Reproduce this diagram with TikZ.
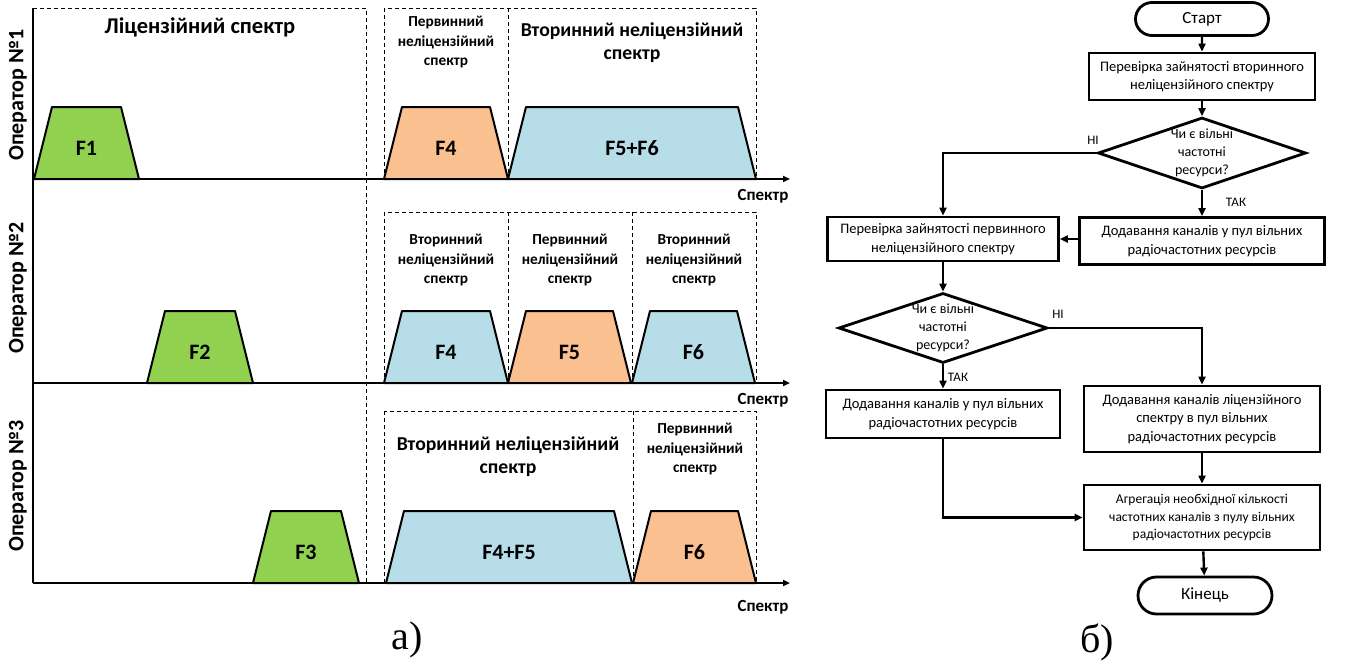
\documentclass[tikz,border=0pt]{standalone}
\usepackage{fontspec}
\setmainfont{Carlito}
\newfontfamily\legende{Liberation Serif}
\usetikzlibrary{arrows.meta,shapes.geometric,shapes.misc,positioning}

\tikzset{Axe/.style={draw,black,line width=2.6pt}}
\tikzset{Pointe/.style={-{Triangle[length=7pt,width=6pt]}}}
\tikzset{Zone/.style={draw,black,line width=0.8pt,dash pattern=on 4pt off 3pt}}
\tikzset{Bord/.style={draw,black,line width=2pt,line join=round}}
\tikzset{Canal/.style={font=\fontsize{22}{26}\selectfont\bfseries}}
\tikzset{Titre/.style={align=center,font=\fontsize{19.7}{23}\selectfont\bfseries}}
\tikzset{Soustitre/.style={align=center,font=\fontsize{15.3}{19.5}\selectfont\bfseries}}
\tikzset{Axelabel/.style={font=\fontsize{17}{20}\selectfont\bfseries}}
\tikzset{Operateur/.style={rotate=90,font=\fontsize{22}{26}\selectfont\bfseries}}
\tikzset{Bloc/.style={draw,black,line width=2.8pt,rectangle,inner sep=0pt,align=center,font=\fontsize{14.5}{18.5}\selectfont}}
\tikzset{Terminal/.style={draw,black,line width=2.8pt,rounded rectangle,inner sep=0pt,minimum width=133pt,minimum height=33pt,font=\fontsize{17}{20}\selectfont}}
\tikzset{Test/.style={draw,black,line width=2.8pt,diamond,inner sep=0pt,minimum width=208pt,minimum height=71pt}}
\tikzset{Testtexte/.style={align=center,inner sep=0pt,font=\fontsize{14}{18}\selectfont}}
\tikzset{Reponse/.style={font=\fontsize{13}{15}\selectfont}}
\tikzset{Fleche/.style={draw,black,line width=2.4pt,-{Triangle[length=8pt,width=7pt]}}}
\tikzset{Legende/.style={font=\legende\fontsize{40}{46}\selectfont}}

\newcommand{\Bande}[6]{%
  \draw[Bord,fill=#5] (#2,#4) -- (#2+18,#4-72) -- (#3-18,#4-72) -- (#3,#4) -- cycle;
  \node[Canal] (#1) at ({(#2+#3)/2},#4-31) {#6};}

\definecolor{vert}{HTML}{92D050}
\definecolor{orange}{HTML}{FAC090}
\definecolor{bleu}{HTML}{B7DDE8}

\begin{document}
\begin{tikzpicture}[x=1pt,y=-1pt]
\useasboundingbox (0,0) rectangle (1346,667);

% a)
\draw[Zone] (33,8) -- (366,8) -- (366,583);
\draw[Zone] (384,8) rectangle (756,179);
\draw[Zone] (508,8) -- (508,179);
\draw[Zone] (384,212) rectangle (756,383);
\draw[Zone] (508,212) -- (508,383);
\draw[Zone] (632,212) -- (632,383);
\draw[Zone] (384,411) rectangle (756,583);
\draw[Zone] (633,411) -- (633,583);

\coordinate (O) at (33,8);
\coordinate (A1) at (33,179);
\coordinate (A2) at (33,383);
\coordinate (A3) at (33,583);
\coordinate (X1) at (790,179);
\coordinate (X2) at (790,383);
\coordinate (X3) at (790,583);

\Bande{F1}{34}{139}{179}{vert}{F1}
\Bande{F4a}{384}{508}{179}{orange}{F4}
\Bande{F56}{508}{756}{179}{bleu}{F5+F6}
\Bande{F2}{147}{253}{383}{vert}{F2}
\Bande{F4b}{384}{508}{383}{bleu}{F4}
\Bande{F5}{508}{631}{383}{orange}{F5}
\Bande{F6a}{632}{755}{383}{bleu}{F6}
\Bande{F3}{253}{359}{583}{vert}{F3}
\Bande{F45}{386}{632}{583}{bleu}{F4+F5}
\Bande{F6b}{633}{756}{583}{orange}{F6}

\draw[Axe] (O) -- (A3);
\draw[Axe,Pointe] (A1) -- (X1);
\draw[Axe,Pointe] (A2) -- (X2);
\draw[Axe,Pointe] (A3) -- (X3);

\node[Axelabel] (S1) at (763,196) {Спектр};
\node[Axelabel] (S2) at (763,400) {Спектр};
\node[Axelabel] (S3) at (763,607) {Спектр};

\node[Operateur] (Op1) at (18,95) {Оператор №1};
\node[Operateur] (Op2) at (18,288) {Оператор №2};
\node[Operateur] (Op3) at (18,486) {Оператор №3};

\node[Titre,font=\fontsize{22.5}{26}\selectfont\bfseries] (Lic) at (200,27) {Ліцензійний спектр};
\node[Soustitre] (P1) at (446,42) {Первинний\\неліцензійний\\спектр};
\node[Titre] (V1) at (632,43) {Вторинний неліцензійний\\спектр};
\node[Soustitre] (V2a) at (446,260) {Вторинний\\неліцензійний\\спектр};
\node[Soustitre] (P2) at (570,260) {Первинний\\неліцензійний\\спектр};
\node[Soustitre] (V2b) at (694,260) {Вторинний\\неліцензійний\\спектр};
\node[Titre] (V3) at (508,457) {Вторинний неліцензійний\\спектр};
\node[Soustitre] (P3) at (695,449) {Первинний\\неліцензійний\\спектр};

\node[Legende] (La) at (407,640) {а)};

% б)
\node[Terminal] (S) at (1202,19) {Старт};
\node[Bloc,minimum width=226pt,minimum height=47pt] (B1) at (1202,76.5) {Перевірка зайнятості вторинного\\неліцензійного спектру};
\node[Test,label={[Testtexte]center:{Чи є вільні\\частотні\\ресурси?}}] (D1) at (1202,153) {};
\node[Bloc,minimum width=245pt,minimum height=47pt] (B3) at (1202,241) {Додавання каналів у пул вільних\\радіочастотних ресурсів};
\node[Bloc,minimum width=231pt,minimum height=44pt] (B2) at (943,239) {Перевірка зайнятості первинного\\неліцензійного спектру};
\node[Test,minimum width=209pt,minimum height=70pt,label={[Testtexte]center:{Чи є вільні\\частотні\\ресурси?}}] (D2) at (943,328) {};
\node[Bloc,minimum width=234pt,minimum height=48pt] (B4) at (943,414) {Додавання каналів у пул вільних\\радіочастотних ресурсів};
\node[Bloc,minimum width=236pt,minimum height=66pt] (B5) at (1202,419) {Додавання каналів ліцензійного\\спектру в пул вільних\\радіочастотних ресурсів};
\node[Bloc,minimum width=236pt,minimum height=65pt,font=\fontsize{13.5}{17.5}\selectfont] (B6) at (1202,517.5) {Агрегація необхідної кількості\\частотних каналів з пулу вільних\\радіочастотних ресурсів};
\node[Terminal,minimum width=134pt,minimum height=37pt] (E) at (1205,595.5) {Кінець};

\node[Reponse] (N1) at (1093,140) {НІ};
\node[Reponse] (T1) at (1236,202) {ТАК};
\node[Reponse] (N2) at (1058,314) {НІ};
\node[Reponse] (T2) at (958,377) {ТАК};

\draw[Fleche] (S) -- (B1);
\draw[Fleche] (B1) -- (D1);
\draw[Fleche] (D1.west) -| (B2.north);
\draw[Fleche] (D1) -- (B3);
\draw[Fleche] (B3.west |- B2.east) -- (B2.east);
\draw[Fleche] (B2) -- (D2);
\draw[Fleche] (D2.east) -| (B5.north);
\draw[Fleche] (D2) -- (B4);
\draw[Fleche] (B5) -- (B6);
\draw[Fleche] (B4.south) |- (B6.west);
\draw[Fleche] (B6) -- (E);

\node[Legende] (Lb) at (1097,642) {б)};

\end{tikzpicture}
\end{document}
